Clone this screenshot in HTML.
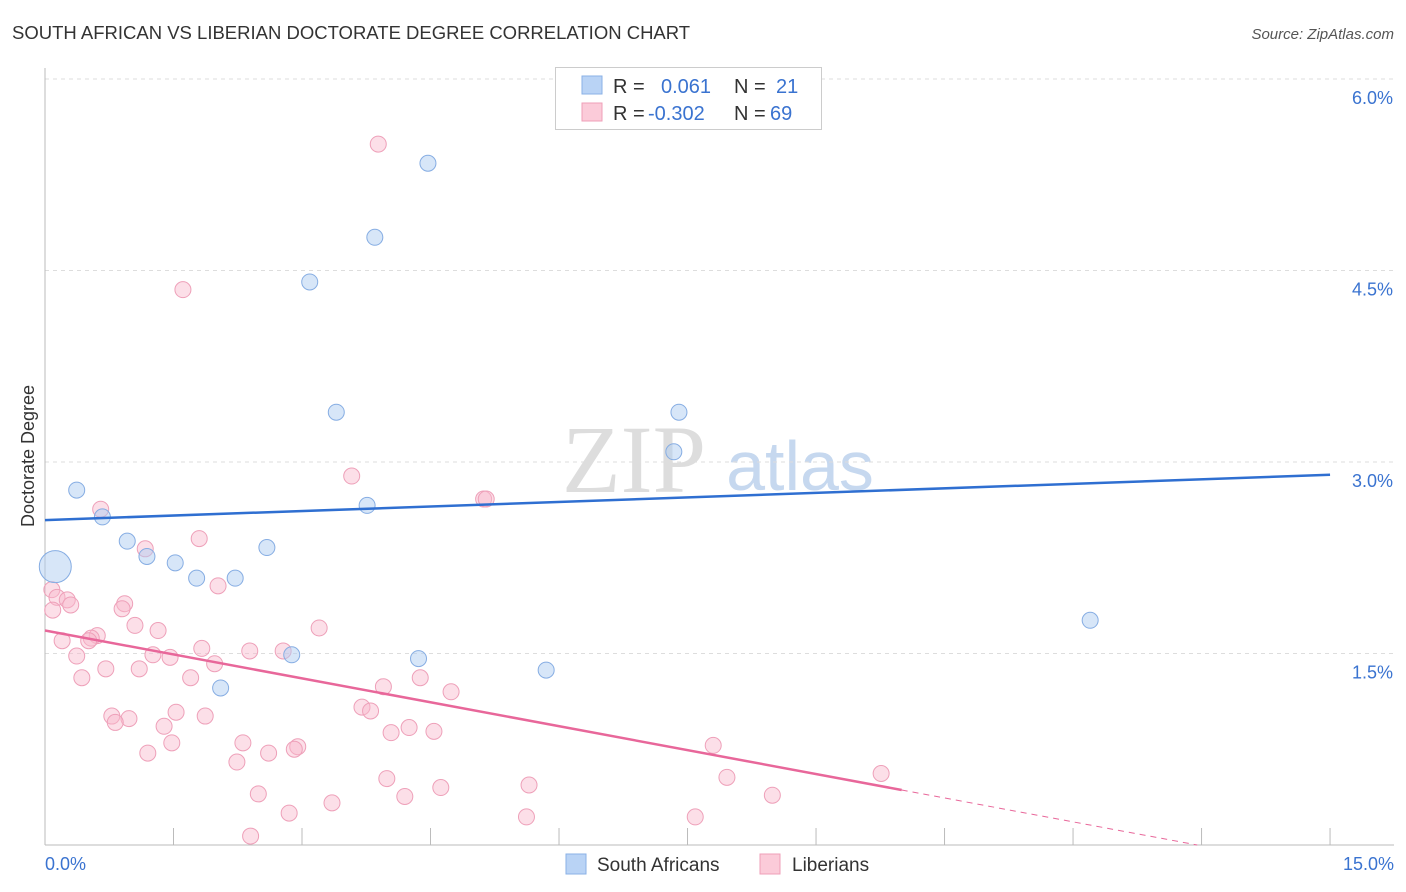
<!DOCTYPE html>
<html><head><meta charset="utf-8"><style>
body{margin:0;background:#fff;font-family:"Liberation Sans",sans-serif}
svg{display:block}
</style></head><body>
<svg id="c" width="1406" height="892">
<text x="12" y="39" font-size="18.5" fill="#333">SOUTH AFRICAN VS LIBERIAN DOCTORATE DEGREE CORRELATION CHART</text>
<text x="1394" y="39" font-size="15" fill="#555" font-style="italic" text-anchor="end">Source: ZipAtlas.com</text>
<text x="34" y="456" font-size="18" fill="#333" text-anchor="middle" transform="rotate(-90 34 456)">Doctorate Degree</text>
<g><text x="634" y="492" font-size="96" fill="#ddd" font-family="Liberation Serif,serif" text-anchor="middle">ZIP</text><text x="800" y="490" font-size="70" fill="#c6d8ef" text-anchor="middle">atlas</text></g>
<g id="grid"></g><g id="marks"></g>
<g>
<rect x="555.5" y="67.5" width="266" height="62" fill="#fff" stroke="#ccc"/>
<rect x="582" y="76" width="20" height="18" fill="#b9d3f5" stroke="#8ab0e6"/>
<rect x="582" y="103" width="20" height="18" fill="#fbcbd9" stroke="#ef9fb8"/>
<g font-size="20"><text x="613" y="93" fill="#333">R =</text><text x="661" y="93" fill="#3a73d0">0.061</text><text x="734" y="93" fill="#333">N =</text><text x="776" y="93" fill="#3a73d0">21</text>
<text x="613" y="120" fill="#333">R =</text><text x="648" y="120" fill="#3a73d0">-0.302</text><text x="734" y="120" fill="#333">N =</text><text x="770" y="120" fill="#3a73d0">69</text></g></g>
<g>
<rect x="566" y="854" width="20" height="20" fill="#b9d3f5" stroke="#8ab0e6"/><text x="597" y="871" font-size="19" fill="#333">South Africans</text>
<rect x="760" y="854" width="20" height="20" fill="#fbcbd9" stroke="#ef9fb8"/><text x="792" y="871" font-size="19" fill="#333">Liberians</text></g>
</svg>
<script>
const xTickLabels=["0.0%","15.0%"];
const yTicks=[1.5,3.0,4.5,6.0];
const blueX=[0.12,0.37,0.67,0.96,1.19,1.52,1.77,2.22,2.59,2.88,2.05,3.09,3.40,3.85,4.47,3.76,4.36,5.85,7.34,7.40,12.2];
const blueY=[2.18,2.78,2.57,2.38,2.26,2.21,2.09,2.09,2.33,1.49,1.23,4.41,3.39,4.76,5.34,2.66,1.46,1.37,3.08,3.39,1.76];
const pinkX=[3.89,1.61,3.58,5.12,5.15,0.65,1.80,1.17,0.08,0.14,0.26,0.30,0.09,0.93,0.90,2.02,1.05,1.32,0.61,0.54,0.20,3.20,0.51,1.83,2.39,2.78,1.26,1.46,0.37,0.71,1.10,1.98,0.43,1.70,4.38,3.95,4.74,3.70,3.80,0.78,1.53,1.87,0.98,0.82,1.39,4.25,4.54,4.04,1.48,2.31,2.95,2.91,1.20,2.61,2.24,7.80,9.76,3.99,7.96,5.65,4.62,2.49,4.20,8.49,3.35,2.85,5.62,7.59,2.40];
const pinkY=[5.49,4.35,2.89,2.71,2.71,2.63,2.40,2.32,2.00,1.94,1.92,1.88,1.84,1.89,1.85,2.03,1.72,1.68,1.64,1.62,1.60,1.70,1.60,1.54,1.52,1.52,1.49,1.47,1.48,1.38,1.38,1.42,1.31,1.31,1.31,1.24,1.20,1.08,1.05,1.01,1.04,1.01,0.99,0.96,0.93,0.92,0.89,0.88,0.80,0.80,0.77,0.75,0.72,0.72,0.65,0.78,0.56,0.52,0.53,0.47,0.45,0.40,0.38,0.39,0.33,0.25,0.22,0.22,0.07];
const blueTrend=[2.545,2.90];
const pinkTrend=[1.68,0.0];
const NS="http://www.w3.org/2000/svg";
const X=v=>45+v*85.67, Y=v=>845-v*127.67;
function mk(t,a,p){const e=document.createElementNS(NS,t);for(const k in a)e.setAttribute(k,a[k]);p.appendChild(e);return e;}
const g=document.getElementById('grid'),m=document.getElementById('marks');
yTicks.forEach((t,i)=>{const l=mk('line',{x1:45,x2:1394,y1:Y(t),y2:Y(t),stroke:'#ddd','stroke-dasharray':'4,4'},g);


const tx=mk('text',{x:1393,y:Y(t)+25,'font-size':18,fill:'#3a73d0','text-anchor':'end'},g);tx.textContent=t.toFixed(1)+'%';

});
mk('line',{x1:45,x2:45,y1:68,y2:845,stroke:'#bbb'},g);
mk('line',{x1:45,x2:1394,y1:845,y2:845,stroke:'#bbb'},g);
for(let i=0;i<=10;i++)mk('line',{x1:X(i*1.5),x2:X(i*1.5),y1:828,y2:845,stroke:'#bbb'},g);
[[0,'start',45],[15,'end',1394]].forEach((d,i)=>{const tx=mk('text',{x:d[2],y:870,'font-size':18,fill:'#3a73d0','text-anchor':d[1]},g);tx.textContent=xTickLabels[i];

});
pinkX.forEach((x,i)=>{const c=mk('circle',{cx:X(x),cy:Y(pinkY[i]),r:8,fill:'rgba(248,185,205,0.45)',stroke:'#eea0b9','stroke-width':1},m);

});
blueX.forEach((x,i)=>{const c=mk('circle',{cx:X(x),cy:Y(blueY[i]),r:i==0?16:8,fill:'rgba(175,205,242,0.5)',stroke:'#86ade3','stroke-width':1},m);

});
const bl=mk('line',{x1:X(0),y1:Y(blueTrend[0]),x2:X(15),y2:Y(blueTrend[1]),stroke:'#2f6fd1','stroke-width':2.5},m);


const px=13.45,ps=(pinkTrend[1]-pinkTrend[0])/px,pe=10.0;
const pl=mk('line',{x1:X(0),y1:Y(pinkTrend[0]),x2:X(pe),y2:Y(pinkTrend[0]+ps*pe),stroke:'#e8679a','stroke-width':2.5},m);


const pd=mk('line',{x1:X(pe),y1:Y(pinkTrend[0]+ps*pe),x2:X(px),y2:Y(pinkTrend[1]),stroke:'#e8679a','stroke-width':1,'stroke-dasharray':'6,5'},m);


</script>
</body></html>
